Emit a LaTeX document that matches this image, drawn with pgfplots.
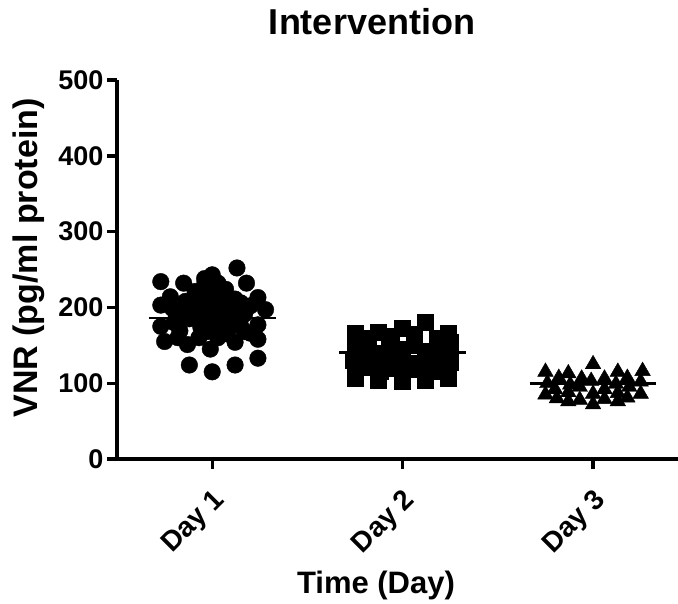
\documentclass[border=0pt]{standalone}
\usepackage{fontspec}
\setmainfont{Liberation Sans}
\usepackage{pgfplots}
\pgfplotsset{compat=1.18}
\begin{document}
\begin{tikzpicture}
\begin{axis}[
  at={(0,0)}, anchor=south west,
  scale only axis, width=561pt, height=379pt,
  xmin=0.5, xmax=3.446, ymin=0, ymax=500,
  axis x line=bottom, axis y line=left,
  axis line style={-, line width=3.4pt},
  every tick/.style={black, line width=3.4pt},
  major tick length=10pt,
  tick align=outside,
  xtick={1,2,3}, xticklabels={Day 1, Day 2, Day 3},
  ytick={0,100,...,500},
  yticklabel style={font=\fontsize{27}{30}\selectfont\bfseries},
  /pgf/number format/assume math mode=true,
  xticklabel style={font=\fontsize{28}{30}\selectfont\bfseries,
    rotate=45, anchor=north east, xshift=-10pt, yshift=-9pt},
  clip=false,
]
% Day 1
\addplot[only marks, mark=*, mark size=8.3pt, black] coordinates {
(1.13,252) (1.00,243) (0.73,234) (0.85,232) (1.18,232) (0.96,230)
(1.03,232) (1.07,224) (0.91,221) (0.78,214) (1.24,213) (1.12,211)
(0.86,208) (0.73,203) (1.00,204) (1.28,197) (0.94,198) (1.07,195)
(0.81,191) (1.17,191) (1.00,187) (0.88,185) (1.12,182) (1.24,177)
(0.73,175) (0.94,174) (1.04,171) (0.83,169) (1.17,168) (1.24,158)
(0.75,155) (0.87,151) (0.99,145) (1.12,154) (1.24,133) (0.88,124)
(1.12,124) (1.00,115)
(0.90,203) (0.95,212) (1.05,210) (1.10,200) (0.92,188) (1.08,186)
(0.97,168) (1.03,160) (0.93,160) (1.08,165) (1.15,175) (0.85,196)
(1.20,202) (0.80,180) (1.02,222) (0.98,195) (1.05,180) (1.15,206)
(0.79,199) (1.20,166) (0.82,160) (0.96,238)
};
% Day 2
\addplot[only marks, mark=square*, mark size=8pt, black] coordinates {
(1.75,166) (1.87,167) (2.00,172) (2.12,180) (2.24,166)
(1.76,156) (1.82,160) (1.93,162) (2.06,164) (2.18,160) (2.25,154)
(1.75,145) (1.81,148) (1.88,140) (1.94,150) (2.00,145) (2.06,152) (2.12,142) (2.19,148) (2.25,140)
(1.74,130) (1.80,125) (1.87,133) (1.93,128) (2.00,130) (2.07,126) (2.13,132) (2.18,125) (2.25,128)
(1.75,118) (1.82,121) (1.88,116) (1.94,120) (2.00,115) (2.06,118) (2.12,121) (2.20,116) (2.24,121)
(1.75,106) (1.87,104) (2.00,103) (2.12,104) (2.24,106)
};
% Day 3
\addplot[only marks, mark=triangle*, mark size=9pt, black] coordinates {
(2.75,115) (2.87,113) (3.00,125) (3.13,115) (3.26,116)
(2.82,107) (2.94,106) (3.06,106) (3.18,107)
(2.76,100) (2.88,98) (2.99,103) (3.12,99) (3.25,102)
(2.80,92) (2.93,95) (3.06,92) (3.19,95)
(2.75,85) (2.87,88) (3.00,86) (3.13,87) (3.25,86)
(2.81,80) (2.93,78) (3.06,79) (3.18,81)
(2.87,76) (3.00,72) (3.13,76)
};
% mean lines
\addplot[black, line width=2.8pt] coordinates {(0.667,186) (1.333,186)};
\addplot[black, line width=2.8pt] coordinates {(1.667,140) (2.333,140)};
\addplot[black, line width=2.8pt] coordinates {(2.667,100) (3.333,100)};
\end{axis}
\node[font=\fontsize{36}{40}\selectfont\bfseries, anchor=base] at (255pt,424pt) {Intervention};
\node[font=\fontsize{31}{34}\selectfont\bfseries, anchor=base] at (259pt,-134pt) {Time (Day)};
\node[font=\fontsize{34}{38}\selectfont\bfseries, rotate=90] at (-88pt,201pt) {VNR (pg/ml protein)};
\pgfresetboundingbox
\useasboundingbox (-117pt,-144pt) rectangle (561pt,459pt);
\end{tikzpicture}
\end{document}
